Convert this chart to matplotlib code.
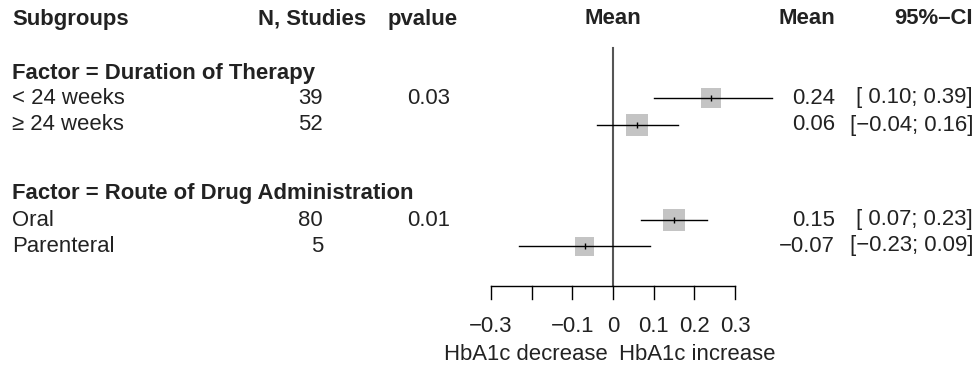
import matplotlib
matplotlib.use("Agg")
import matplotlib.pyplot as plt

# DATA
subgroups = ["< 24 weeks", "\u2265 24 weeks", "Oral", "Parenteral"]
factors = ["Factor = Duration of Therapy", "Factor = Route of Drug Administration"]
n_studies = [39, 52, 80, 5]
pvalues = ["0.03", "", "0.01", ""]
means = [0.24, 0.06, 0.15, -0.07]
ci_low = [0.10, -0.04, 0.07, -0.23]
ci_high = [0.39, 0.16, 0.23, 0.09]
square_px = [20, 22, 22, 19]  # square side, drawn as weight
tick_vals = [-0.3, -0.2, -0.1, 0, 0.1, 0.2, 0.3]
tick_labels = ["\u22120.3", "", "\u22120.1", "0", "0.1", "0.2", "0.3"]
label_left = "HbA1c decrease"
label_right = "HbA1c increase"

# LAYOUT (pixel based)
W, H = 975, 367
X0, SCALE = 613, 407.0          # pixel of 0 and pixels per unit
row_y = [98, 125, 220, 246]      # centre lines of the study rows
factor_y = [74, 193]
header_y = 19
axis_y = 286
FS = 15.9
TXT = '#222222'

plt.rcParams['font.family'] = ['Liberation Sans', 'DejaVu Sans']

fig = plt.figure(figsize=(W / 100, H / 100), dpi=100)
ax = fig.add_axes([0, 0, 1, 1])
ax.set_xlim(-X0 / SCALE, (W - X0) / SCALE)
ax.set_ylim(H, 0)
ax.axis('off')


def px(p):
    return (p - X0) / SCALE


def mean_fmt(v):
    return f"{v:.2f}".replace("-", "\u2212")


def ci_fmt(lo, hi):
    a = f"{lo:.2f}".replace("-", "\u2212")
    b = f"{hi:.2f}".replace("-", "\u2212")
    if lo >= 0:
        a = " " + a
    return f"[{a}; {b}]"


# headers
hdr = dict(fontsize=FS, fontweight='bold', va='center', color=TXT)
txt = dict(fontsize=FS, va='center', color=TXT)
ax.text(px(12), header_y, "Subgroups", ha='left', **hdr)
ax.text(px(312), header_y, "N, Studies", ha='center', **hdr)
ax.text(px(423), header_y, "pvalue", ha='center', **hdr)
ax.text(0, header_y, "Mean", ha='center', **hdr)
ax.text(px(835), header_y, "Mean", ha='right', **hdr)
ax.text(px(973), header_y, "95%\u2013CI", ha='right', **hdr)

for f, y in zip(factors, factor_y):
    ax.text(px(12), y, f, ha='left', **hdr)

# zero line
ax.plot([0, 0], [48, axis_y], color='#555555', lw=1.5, zorder=1)

# rows
for i, y in enumerate(row_y):
    ax.text(px(12), y, subgroups[i], ha='left', **txt)
    ax.text(px(323), y, str(n_studies[i]), ha='right', **txt)
    ax.text(px(429), y, pvalues[i], ha='center', **txt)
    ax.text(px(835), y, mean_fmt(means[i]), ha='right', **txt)
    ax.text(px(973), y, ci_fmt(ci_low[i], ci_high[i]), ha='right', **txt)
    ax.scatter([means[i]], [y], marker='s', s=(square_px[i] * 0.72) ** 2,
               color='#C4C4C4', edgecolors='none', zorder=2)
    ax.plot([ci_low[i], ci_high[i]], [y, y], color='black', lw=1.0, zorder=3)
    ax.plot([means[i]], [y], marker='|', color='black', markersize=5, mew=1.0, zorder=4)

# x axis
ax.plot([tick_vals[0], tick_vals[-1]], [axis_y, axis_y], color='black', lw=1.0)
for t, lab in zip(tick_vals, tick_labels):
    ax.plot([t, t], [axis_y, axis_y + 13], color='black', lw=1.0)
    ax.text(t, 327, lab, ha='center', **txt)

ax.text(px(526), 355, label_left, ha='center', **txt)
ax.text(px(697), 355, label_right, ha='center', **txt)

fig.savefig("out.png", dpi=100)
